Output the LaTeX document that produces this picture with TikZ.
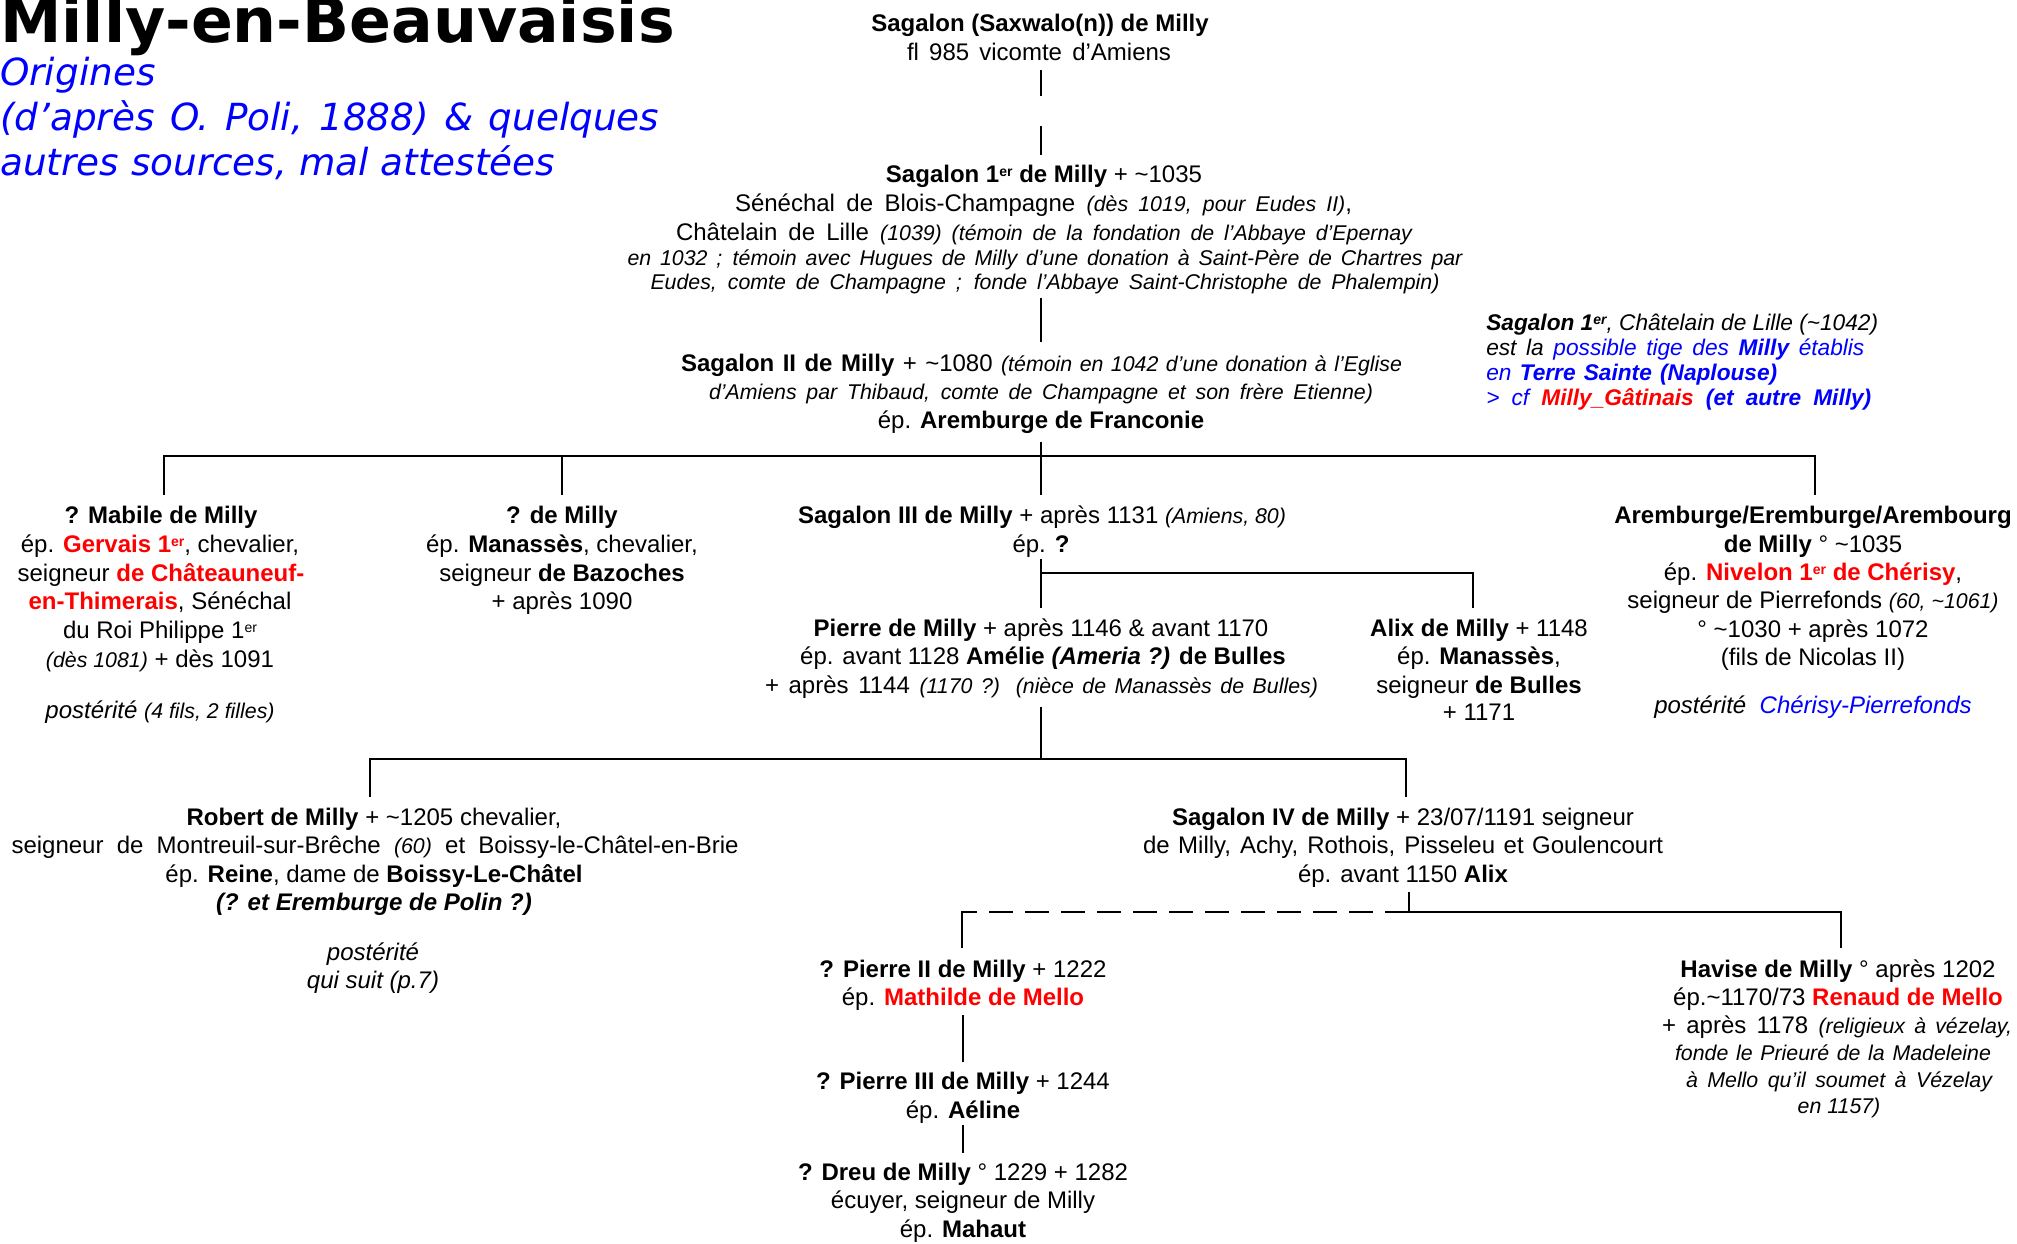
\documentclass[tikz,border=0pt]{standalone}
\usepackage{fontspec}
\setmainfont{Liberation Sans}
\newfontfamily\titlefont{DejaVu Sans}
\newfontfamily\subfont{DejaVu Sans}
\definecolor{pblue}{RGB}{0,0,255}
\definecolor{pred}{RGB}{255,0,0}
\newdimen\pxu \pxu=0.75pt
\newcommand\B[1]{\textbf{#1}}
\newcommand\I[1]{{\fontsize{16}{19}\selectfont\itshape #1}}
\newcommand\R[1]{\textcolor{pred}{\textbf{#1}}}
\newcommand\er{\raisebox{4.2pt}{\fontsize{10.5}{11}\selectfont er}}
\newcommand\tld{\textasciitilde}
\newcommand\TL[3]{\node[tl] (#1) at (#2) {#3};}
\newcommand\JL[4]{\node[tl] (#1) at (#2) {\makebox[#3\pxu][s]{#4}};}
\tikzset{
  tl/.style={anchor=base, inner sep=0pt, font=\fontsize{18}{21.5}\selectfont},
  note/.style={anchor=base west, inner sep=0pt, font=\fontsize{17}{20}\selectfont\itshape},
  subt/.style={anchor=base west, inner sep=0pt, text=pblue, font=\subfont\itshape\fontsize{28}{34}\selectfont},
  conn/.style={line width=1.5pt, line cap=rect},
  dconn/.style={line width=1.5pt, dash pattern=on 18pt off 9pt}
}
\begin{document}
\begin{tikzpicture}[x=0.75pt,y=-0.75pt]
\path[use as bounding box, fill=white] (0,0) rectangle (2017,1243);
% title
\node[anchor=base west, inner sep=0pt, font=\titlefont\bfseries\fontsize{46.3}{50}\selectfont] (title) at (0,42) {Milly-en-Beauvaisis};
\node[subt] (sub1) at (0,85) {Origines};
\node[subt] (sub2) at (0,130) {\makebox[659\pxu][s]{(d’après O. Poli, 1888) \& quelques}};
\node[subt] (sub3) at (0,175) {autres sources, mal attestées};
% Sagalon (Saxwalo(n))
\TL{t1}{1040,31}{\B{Sagalon (Saxwalo(n)) de Milly}}
\JL{t2}{1039,60}{264}{fl 985 vicomte d’Amiens}
% Sagalon 1er
\TL{a1}{1044,182}{\B{Sagalon 1\er{} de Milly} + \tld1035}
\JL{a2}{1043.5,211}{617}{Sénéchal de Blois-Champagne \I{(dès 1019, pour Eudes II)},}
\JL{a3}{1044,240}{736}{Châtelain de Lille \I{(1039) (témoin de la fondation de l’Abbaye d’Epernay}}
\JL{a4}{1045,265}{835}{\I{en 1032 ; témoin avec Hugues de Milly d’une donation à Saint-Père de Chartres par}}
\JL{a5}{1045,289}{789}{\I{Eudes, comte de Champagne ; fonde l’Abbaye Saint-Christophe de Phalempin)}}
% Sagalon II
\JL{b1}{1041.5,371}{721}{\B{Sagalon II de Milly} + \tld1080 \I{(témoin en 1042 d’une donation à l’Eglise}}
\JL{b2}{1041,399}{664}{\I{d’Amiens par Thibaud, comte de Champagne et son frère Etienne)}}
\TL{b3}{1041,428}{ép. \B{Aremburge de Franconie}}
% note
\node[note] (n1) at (1486,330) {\textbf{Sagalon 1\er}, Châtelain de Lille (\tld1042)};
\node[note] (n2) at (1486,355) {\makebox[378\pxu][s]{est la \textcolor{pblue}{possible tige des \textbf{Milly} établis}}};
\node[note] (n3) at (1486,380) {\makebox[291\pxu][s]{\textcolor{pblue}{en \textbf{Terre Sainte (Naplouse)}}}};
\node[note] (n4) at (1486,405) {\makebox[385\pxu][s]{\textcolor{pblue}{> cf \textcolor{pred}{\textbf{Milly\_Gâtinais}} \textbf{(et autre Milly)}}}};
% Mabile
\TL{m1}{161,523}{\B{? Mabile de Milly}}
\TL{m2}{160,552}{ép. \R{Gervais 1\er}, chevalier,}
\TL{m3}{161,581}{seigneur \R{de Châteauneuf-}}
\TL{m4}{160,609}{\R{en-Thimerais}, Sénéchal}
\TL{m5}{160,638}{du Roi Philippe 1\er}
\TL{m6}{160,667}{\I{(dès 1081)} + dès 1091}
\TL{m7}{160,718}{\textit{postérité} \I{(4 fils, 2 filles)}}
% ? de Milly
\TL{d1}{562,523}{\B{? de Milly}}
\TL{d2}{562,552}{ép. \B{Manassès}, chevalier,}
\TL{d3}{562,581}{seigneur \B{de Bazoches}}
\TL{d4}{562,609}{+ après 1090}
% Sagalon III
\TL{c1}{1042,523}{\B{Sagalon III de Milly} + après 1131 \I{(Amiens, 80)}}
\TL{c2}{1041,552}{ép. \B{?}}
% Pierre
\TL{p1}{1041,636}{\B{Pierre de Milly} + après 1146 \& avant 1170}
\TL{p2}{1043,664}{ép. avant 1128 \B{Amélie \textit{(Ameria ?)} de Bulles}}
\JL{p3}{1041.5,693}{553}{+ après 1144 \I{(1170 ?) (nièce de Manassès de Bulles)}}
% Alix
\TL{x1}{1479,636}{\B{Alix de Milly} + 1148}
\TL{x2}{1479,664}{ép. \B{Manassès},}
\TL{x3}{1479,693}{seigneur \B{de Bulles}}
\TL{x4}{1479,720}{+ 1171}
% Aremburge
\TL{r1}{1813,523}{\B{Aremburge/Eremburge/Arembourg}}
\TL{r2}{1813,552}{\B{de Milly} ° \tld1035}
\TL{r3}{1813,580}{ép. \R{Nivelon 1\er{} de Chérisy},}
\TL{r4}{1813,608}{seigneur de Pierrefonds \I{(60, \tld1061)}}
\TL{r5}{1813,637}{° \tld1030 + après 1072}
\TL{r6}{1813,665}{(fils de Nicolas II)}
\TL{r7}{1813,713}{\textit{postérité}\ \ \textcolor{pblue}{\textit{Chérisy-Pierrefonds}}}
% Robert
\TL{o1}{374,825}{\B{Robert de Milly} + \tld1205 chevalier,}
\JL{o2}{375,853}{727}{seigneur de Montreuil-sur-Brêche \I{(60)} et Boissy-le-Châtel-en-Brie}
\TL{o3}{374,882}{ép. \B{Reine}, dame de \B{Boissy-Le-Châtel}}
\TL{o4}{374,910}{\textbf{\textit{(? et Eremburge de Polin ?)}}}
\TL{o5}{373,960}{\textit{postérité}}
\TL{o6}{373,988}{\textit{qui suit (p.7)}}
% Sagalon IV
\TL{g1}{1403,825}{\B{Sagalon IV de Milly} + 23/07/1191 seigneur}
\JL{g2}{1403,853}{520}{de Milly, Achy, Rothois, Pisseleu et Goulencourt}
\TL{g3}{1403,882}{ép. avant 1150 \B{Alix}}
% Pierre II / III / Dreu
\TL{q1}{963,977}{\B{? Pierre II de Milly} + 1222}
\TL{q2}{963,1005}{ép. \R{Mathilde de Mello}}
\TL{q3}{963,1089}{\B{? Pierre III de Milly} + 1244}
\TL{q4}{963,1118}{ép. \B{Aéline}}
\TL{q5}{963,1180}{\B{? Dreu de Milly} ° 1229 + 1282}
\TL{q6}{963,1208}{écuyer, seigneur de Milly}
\TL{q7}{963,1237}{ép. \B{Mahaut}}
% Havise
\TL{h1}{1838,977}{\B{Havise de Milly} ° après 1202}
\TL{h2}{1838,1005}{ép.\tld1170/73 \R{Renaud de Mello}}
\JL{h3}{1837,1033}{350}{+ après 1178 \I{(religieux à vézelay,}}
\JL{h4}{1833,1060}{316}{\I{fonde le Prieuré de la Madeleine}}
\JL{h5}{1839,1087}{306}{\I{à Mello qu’il soumet à Vézelay}}
\TL{h6}{1839,1113}{\I{en 1157)}}
% connector coordinates
\coordinate (k1) at (1041,71);  \coordinate (k2) at (1041,95);
\coordinate (k3) at (1041,127); \coordinate (k4) at (1041,154);
\coordinate (k5) at (1041,299); \coordinate (k6) at (1041,341);
\coordinate (k7) at (1041,443); \coordinate (k8) at (1041,494);
\coordinate (busL) at (164,456); \coordinate (busR) at (1815,456);
\coordinate (mdrop) at (164,494); \coordinate (ddrop) at (562,494);
\coordinate (dtop) at (562,456); \coordinate (rdrop) at (1815,494);
\coordinate (c3a) at (1041,560); \coordinate (c3b) at (1041,607);
\coordinate (c3j) at (1041,573); \coordinate (xdrop) at (1473,607);
\coordinate (p4a) at (1041,708); \coordinate (p4b) at (1041,759);
\coordinate (bus2L) at (370,759); \coordinate (bus2R) at (1406,759);
\coordinate (odrop) at (370,796); \coordinate (gdrop) at (1406,796);
\coordinate (g4a) at (1409,893); \coordinate (g4j) at (1409,912);
\coordinate (qtop) at (962,912); \coordinate (qdrop) at (962,947);
\coordinate (htop) at (1841,912); \coordinate (hdrop) at (1841,947);
\coordinate (q12a) at (963,1016); \coordinate (q12b) at (963,1061);
\coordinate (q23a) at (963,1126); \coordinate (q23b) at (963,1152);
% connectors
\draw[conn] (k1) -- (k2);
\draw[conn] (k3) -- (k4);
\draw[conn] (k5) -- (k6);
\draw[conn] (k7) -- (k8);
\draw[conn] (mdrop) -- (busL) -- (busR) -- (rdrop);
\draw[conn] (dtop) -- (ddrop);
\draw[conn] (c3a) -- (c3b);
\draw[conn] (c3j) -| (xdrop);
\draw[conn] (p4a) -- (p4b);
\draw[conn] (odrop) -- (bus2L) -- (bus2R) -- (gdrop);
\draw[conn] (g4a) -- (g4j);
\draw[dconn] (g4j) -- (qtop);
\draw[conn] (qtop) -- (qdrop);
\draw[conn] (g4j) -- (htop) -- (hdrop);
\draw[conn] (q12a) -- (q12b);
\draw[conn] (q23a) -- (q23b);
\end{tikzpicture}
\end{document}
